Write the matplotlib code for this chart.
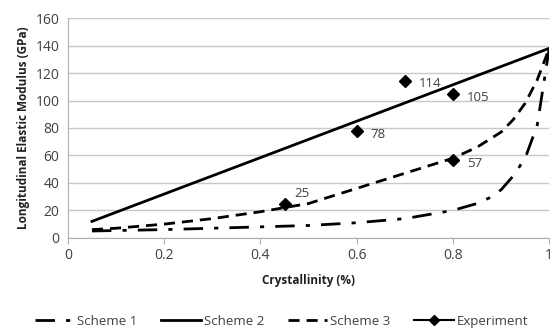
import matplotlib
matplotlib.use("Agg")
import matplotlib.pyplot as plt
from matplotlib.lines import Line2D

plt.rcParams['font.family'] = ['Open Sans', 'DejaVu Sans']

s1_x = [0.05, 0.2, 0.3, 0.4, 0.5, 0.6, 0.7, 0.75, 0.8, 0.85, 0.875, 0.9, 0.925, 0.95, 0.975, 1.0]
s1_y = [5, 6, 7, 8, 9, 11, 14, 17, 20, 25, 29, 35, 45, 58, 82, 138]

s2_x = [0.05, 1.0]
s2_y = [12, 138]

s3_x = [0.05, 0.1, 0.2, 0.3, 0.4, 0.45, 0.5, 0.6, 0.7, 0.8, 0.85, 0.9, 0.925, 0.95, 0.975, 1.0]
s3_y = [6, 7, 10, 14, 19, 22, 25, 36, 47, 58, 66, 77, 86, 98, 115, 138]

exp_x = [0.45, 0.6, 0.7, 0.8, 0.8]
exp_y = [25, 78, 114, 105, 57]
exp_labels = ["25", "78", "114", "105", "57"]
label_offsets = [(7, 5), (10, -5), (10, -4), (10, -5), (10, -5)]

fig = plt.figure(figsize=(5.52, 3.35), dpi=100)
ax = fig.add_axes([0.123, 0.29, 0.872, 0.656])

ax.plot(s1_x, s1_y, color='black', lw=2, dashes=(7, 4, 1.5, 4), label='Scheme 1')
ax.plot(s2_x, s2_y, color='black', lw=2, label='Scheme 2')
ax.plot(s3_x, s3_y, color='black', lw=2, dashes=(4, 2.5), label='Scheme 3')
ax.plot(exp_x, exp_y, linestyle='none', marker='D', color='black', ms=6, label='Experiment')
for x, y, t, off in zip(exp_x, exp_y, exp_labels, label_offsets):
    ax.annotate(t, (x, y), xytext=off, textcoords='offset points', fontsize=9.5, color='#404040')

ax.set_xlim(0, 1)
ax.set_ylim(0, 160)
ax.set_xticks([0, 0.2, 0.4, 0.6, 0.8, 1.0])
ax.set_xticklabels(["0", "0.2", "0.4", "0.6", "0.8", "1"])
ax.set_yticks(range(0, 161, 20))
ax.grid(axis='y', color='#c8c8c8', lw=1)
ax.set_axisbelow(True)
for s in ['top', 'right']:
    ax.spines[s].set_visible(False)
for s in ['left', 'bottom']:
    ax.spines[s].set_color('#b0b0b0')
ax.tick_params(axis='both', colors='#b0b0b0', labelcolor='#404040', labelsize=10, length=4)
ax.tick_params(axis='y', length=0, pad=6)
ax.set_xlabel('Crystallinity (%)', fontsize=8.5, fontweight='bold', color='#202020', labelpad=8)
ax.set_ylabel('Longitudinal Elastic Modulus (GPa)', fontsize=8.5, fontweight='bold', color='#202020', labelpad=4)

handles = [
    Line2D([], [], color='black', lw=2, dashes=(7, 4, 1.5, 4)),
    Line2D([], [], color='black', lw=2),
    Line2D([], [], color='black', lw=2, dashes=(4, 2.5)),
    Line2D([], [], color='black', lw=1.5, marker='D', ms=5),
]
fig.legend(handles, ['Scheme 1', 'Scheme 2', 'Scheme 3', 'Experiment'], loc='center',
           bbox_to_anchor=(0.51, 0.04), ncol=4, frameon=False, fontsize=9.5,
           handlelength=3.0, handletextpad=0.2, columnspacing=1.8, labelcolor='#404040')

fig.savefig('out.png', dpi=100)
